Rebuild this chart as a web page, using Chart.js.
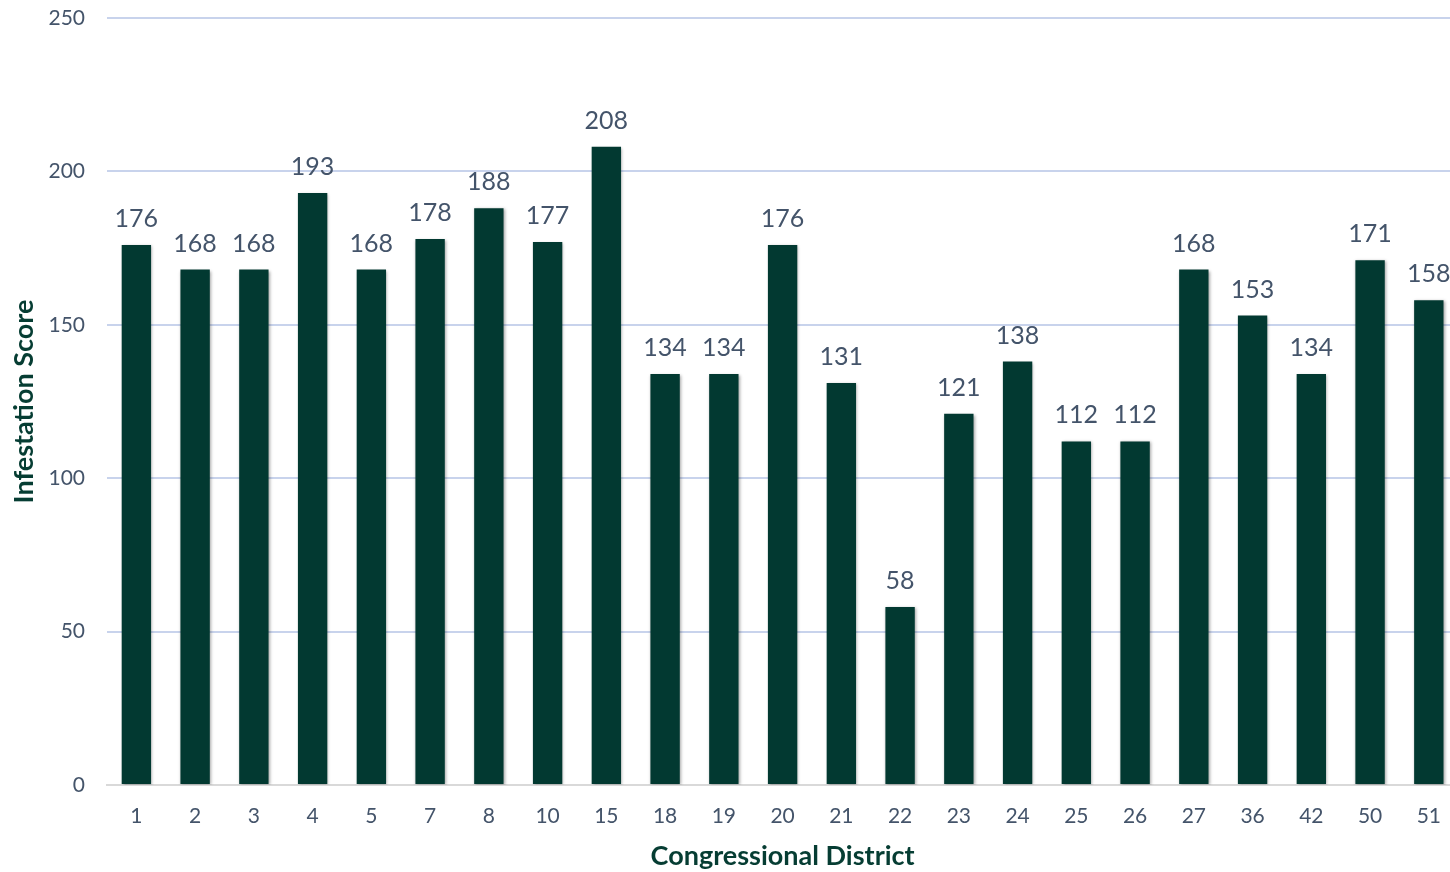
<!DOCTYPE html>
<html>
<head>
<meta charset="utf-8">
<script src="https://cdn.jsdelivr.net/npm/chart.js@4.4.1/dist/chart.umd.min.js"></script>
<style>
  html, body { margin: 0; padding: 0; background: #ffffff; overflow: hidden; }
  #wrap { width: 1460px; height: 872px; }
</style>
</head>
<body>
<div id="wrap"><canvas id="chart" width="1460" height="872"></canvas></div>
<script>
// Congressional districts and their infestation scores
const districts = ['1', '2', '3', '4', '5', '7', '8', '10', '15', '18', '19', '20', '21', '22', '23', '24', '25', '26', '27', '36', '42', '50', '51'];
const scores = [176, 168, 168, 193, 168, 178, 188, 177, 208, 134, 134, 176, 131, 58, 121, 138, 112, 112, 168, 153, 134, 171, 158];
const yTicks = [0, 50, 100, 150, 200, 250];

const FONT = 'Lato, "Open Sans", sans-serif';
const TEXT_GREY = '#44546a';
const TITLE_GREEN = '#063d33';
const BAR_GREEN = '#023931';

// Soft shadow under the bars
const barShadow = {
  id: 'barShadow',
  beforeDatasetsDraw(chart) {
    const ctx = chart.ctx;
    ctx.save();
    ctx.shadowColor = 'rgba(0,0,0,0.35)';
    ctx.shadowBlur = 3;
    ctx.shadowOffsetX = 1;
    ctx.shadowOffsetY = 1;
  },
  afterDatasetsDraw(chart) {
    chart.ctx.restore();
  }
};

// Value labels above each bar
const valueLabels = {
  id: 'valueLabels',
  afterDatasetsDraw(chart) {
    const ctx = chart.ctx;
    const meta = chart.getDatasetMeta(0);
    ctx.save();
    ctx.font = '25px ' + FONT;
    ctx.fillStyle = TEXT_GREY;
    ctx.textAlign = 'center';
    ctx.textBaseline = 'alphabetic';
    meta.data.forEach((bar, i) => {
      ctx.fillText(String(scores[i]), bar.x, bar.y - 18);
    });
    ctx.restore();
  }
};

new Chart(document.getElementById('chart'), {
  type: 'bar',
  data: {
    labels: districts,
    datasets: [{
      data: scores,
      backgroundColor: BAR_GREEN,
      borderWidth: 0,
      categoryPercentage: 1.0,
      barPercentage: 0.5
    }]
  },
  options: {
    responsive: false,
    animation: false,
    layout: { padding: { top: 18, right: 0, left: 0, bottom: 0 } },
    plugins: {
      legend: { display: false },
      tooltip: { enabled: false }
    },
    scales: {
      x: {
        offset: true,
        grid: { display: false, drawTicks: false },
        border: { display: true, color: '#d9d9d9', width: 2 },
        ticks: {
          color: TEXT_GREY,
          font: { family: FONT, size: 21 },
          padding: 19,
          maxRotation: 0
        },
        title: {
          display: true,
          text: 'Congressional District',
          color: TITLE_GREEN,
          font: { family: FONT, size: 27, weight: 'bold' },
          padding: { top: 8, bottom: 0 }
        },
        afterFit(scale) { scale.height = 87; }
      },
      y: {
        min: 0,
        max: 250,
        afterBuildTicks(scale) { scale.ticks = yTicks.map(v => ({ value: v })); },
        grid: {
          color: (c) => c.tick && c.tick.value === 0 ? '#d9d9d9' : '#c8d3ec',
          lineWidth: 2,
          drawTicks: false
        },
        border: { display: false },
        ticks: {
          color: TEXT_GREY,
          font: { family: FONT, size: 21 },
          padding: 22
        },
        title: {
          display: true,
          text: 'Infestation Score',
          color: TITLE_GREEN,
          font: { family: FONT, size: 27, weight: 'bold' },
          padding: { top: 8, bottom: 0 }
        },
        afterFit(scale) {
          scale.width = 107;
          scale.paddingTop = 0;
          scale.paddingBottom = 0;
        }
      }
    }
  },
  plugins: [barShadow, valueLabels]
});
</script>
</body>
</html>
